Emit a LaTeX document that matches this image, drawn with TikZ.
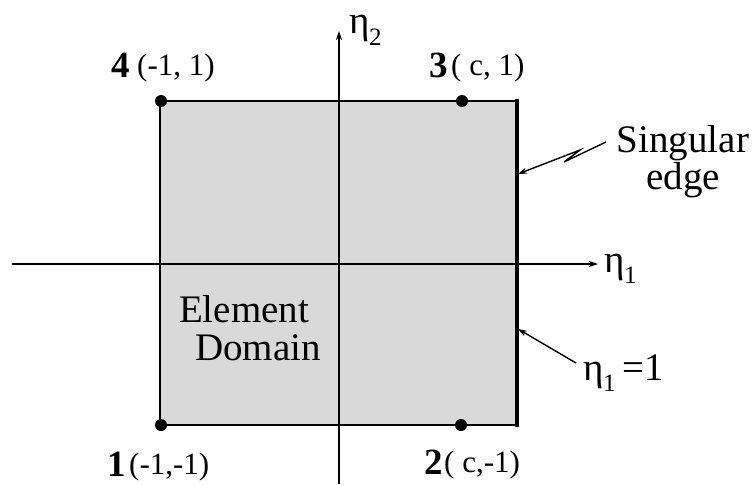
\documentclass[tikz,border=0pt]{standalone}
\usepackage{fontspec}
\setmainfont{Liberation Serif}
\usetikzlibrary{arrows.meta}
\tikzset{
  big/.style={font=\fontsize{39}{40}\selectfont, inner sep=0pt},
  num/.style={font=\fontsize{37}{37}\selectfont\bfseries, inner sep=0pt},
  crd/.style={font=\fontsize{31}{31}\selectfont, inner sep=0pt},
  vertex/.style={circle, fill=black, inner sep=0pt, minimum size=12pt},
  axis/.style={line width=1.4pt, -{Stealth[length=9pt,width=6pt]}},
  leader/.style={line width=1.4pt, -{Stealth[length=9pt,width=6pt]}},
}
\newcommand{\etasub}[1]{η\kern-0.5pt\raisebox{-0.3em}{\fontsize{25}{25}\selectfont #1}}
\begin{document}
\begin{tikzpicture}[x=1pt,y=-1pt]
\useasboundingbox (0,0) rectangle (754,484);
% domain
\fill[black!15] (160,101) rectangle (517,425);
% axes
\coordinate (xs) at (12,264);
\coordinate (xe) at (598,264);
\coordinate (ys) at (339,484);
\coordinate (ye) at (339,31);
\draw[axis] (xs) -- (xe);
\draw[axis] (ys) -- (ye);
% edges
\coordinate (c1) at (160,425);
\coordinate (c2) at (517,425);
\coordinate (c3) at (517,101);
\coordinate (c4) at (160,101);
\draw[line width=2.4pt] (c2) -- (c1) -- (c4) -- (c3);
\draw[line width=4.5pt] (517,99) -- (517,427);
% vertices
\node[vertex] (v1) at (161,425) {};
\node[vertex] (v2) at (461,425) {};
\node[vertex] (v3) at (462,101) {};
\node[vertex] (v4) at (161,101) {};
% corner labels
\node[num, anchor=base west] (n4) at (111,78) {4};
\node[crd, anchor=base west] (p4) at (137,76) {(-1, 1)};
\node[num, anchor=base west] (n3) at (429,78) {3};
\node[crd, anchor=base west] (p3) at (451,76) {( c, 1)};
\node[num, anchor=base west] (n1) at (107,476) {1};
\node[crd, anchor=base west] (p1) at (129,474) {(-1,-1)};
\node[num, anchor=base west] (n2) at (424,474) {2};
\node[crd, anchor=base west] (p2) at (444,472) {( c,-1)};
% axis labels
\node[big, anchor=base west] (eta2) at (349,34) {\etasub{2}};
\node[big, anchor=base west] (eta1) at (604,272) {\etasub{1}};
% domain label
\node[big, anchor=base] (el) at (244,322) {Element};
\node[big, anchor=base] (dom) at (258,360) {Domain};
% singular edge
\node[big, anchor=base] (sing) at (683,152) {Singular};
\node[big, anchor=base] (edge) at (683,189) {edge};
\coordinate (s0) at (606,142);
\coordinate (s1) at (564,162);
\coordinate (s2) at (580,150);
\coordinate (st) at (518,174);
\draw[leader] (s0) -- (s1) -- (s2) -- (st);
% eta1 = 1
\node[big, anchor=base west] (eq) at (583,380) {\etasub{1}\,=1};
\coordinate (qt) at (518,329);
\coordinate (q0) at (576,363);
\draw[leader] (q0) -- (qt);
\end{tikzpicture}
\end{document}
